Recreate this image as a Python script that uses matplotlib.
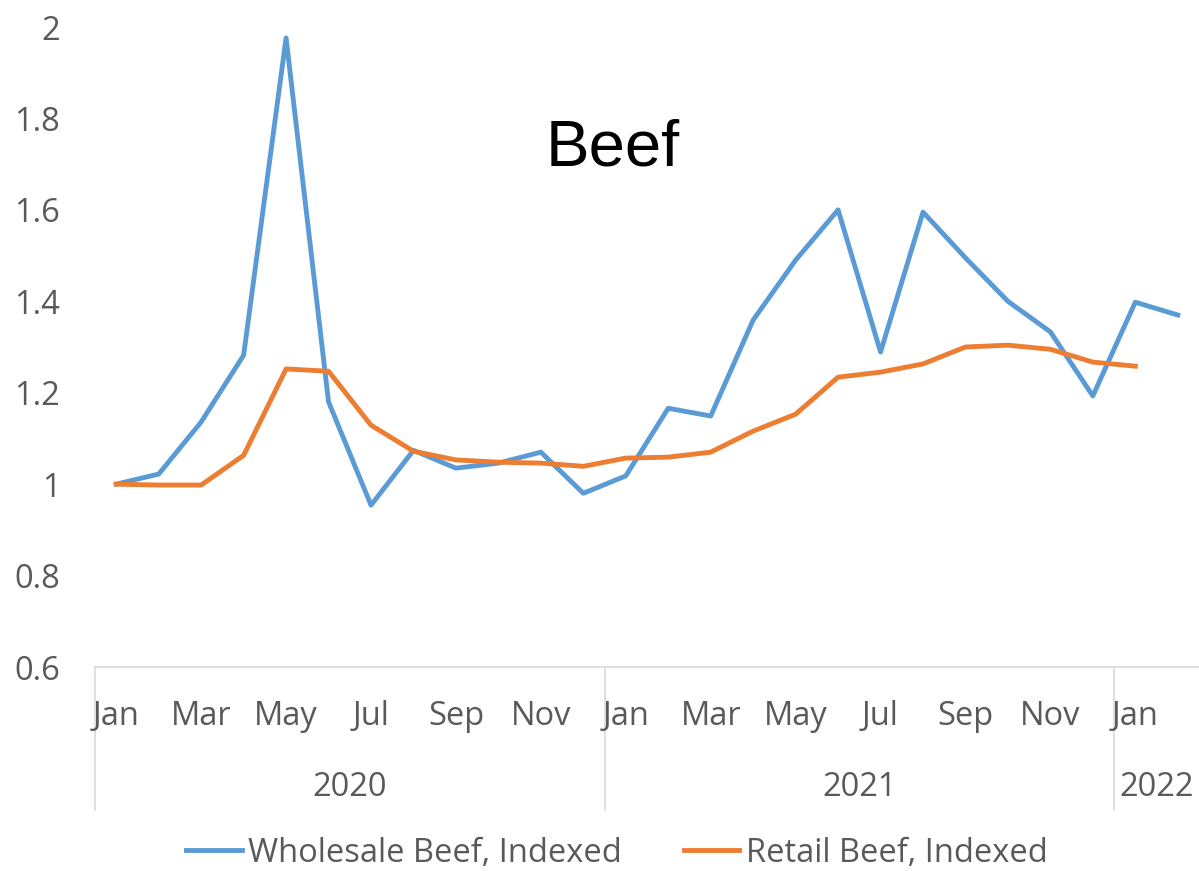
import matplotlib
matplotlib.use("Agg")
import matplotlib.pyplot as plt
from matplotlib.lines import Line2D

months = ["Jan", "Feb", "Mar", "Apr", "May", "Jun", "Jul", "Aug", "Sep", "Oct", "Nov", "Dec",
          "Jan", "Feb", "Mar", "Apr", "May", "Jun", "Jul", "Aug", "Sep", "Oct", "Nov", "Dec",
          "Jan", "Feb"]
years = ["2020", "2021", "2022"]
year_counts = [12, 12, 2]

wholesale = [1.0, 1.022, 1.136, 1.282, 1.976, 1.18, 0.954, 1.074, 1.035, 1.046, 1.07, 0.98,
             1.018, 1.166, 1.149, 1.359, 1.49, 1.6, 1.289, 1.595, 1.495, 1.4, 1.333, 1.193,
             1.398, 1.37]
retail = [1.0, 0.998, 0.998, 1.063, 1.252, 1.247, 1.129, 1.072, 1.053, 1.048, 1.046, 1.039,
          1.057, 1.059, 1.07, 1.116, 1.153, 1.234, 1.245, 1.263, 1.3, 1.304, 1.295, 1.267,
          1.258]
yticks = [0.6, 0.8, 1.0, 1.2, 1.4, 1.6, 1.8, 2.0]
ytick_labels = ["0.6", "0.8", "1", "1.2", "1.4", "1.6", "1.8", "2"]

W, H = 1199, 871
fig = plt.figure(figsize=(W / 100, H / 100), dpi=100)
ax = fig.add_axes([95 / W, (H - 667) / H, (1199 - 95) / W, (667 - 27) / H])

blue = "#5B9BD5"
orange = "#ED7D31"
grey = "#595959"
tfont = "Open Sans"
fs = 23.5

ax.plot(range(len(wholesale)), wholesale, color=blue, lw=3.5, solid_joinstyle="round")
ax.plot(range(len(retail)), retail, color=orange, lw=3.5, solid_joinstyle="round")

ax.set_xlim(-0.5, len(months) - 0.5)
ax.set_ylim(0.6, 2.0)
ax.set_yticks(yticks)
ax.set_yticklabels(ytick_labels, fontsize=fs, color=grey, family=tfont)
ax.tick_params(axis="y", length=0, pad=25)
ax.set_xticks([])
for s in ["top", "right", "left"]:
    ax.spines[s].set_visible(False)
ax.spines["bottom"].set_color("#D9D9D9")
ax.spines["bottom"].set_linewidth(1.2)

trans = ax.get_xaxis_transform()
for i, m in enumerate(months):
    if i % 2 == 0:
        ax.text(i, -49 / 640, m, transform=trans, ha="center", va="center",
                fontsize=fs, color=grey, family=tfont, clip_on=False)
start = 0
bounds = [start]
for c in year_counts:
    start += c
    bounds.append(start)
for b in bounds[:-1]:
    ax.add_line(Line2D([b - 0.5, b - 0.5], [0, -143 / 640], transform=trans,
                       color="#D9D9D9", lw=1.2, clip_on=False))
for k, y in enumerate(years):
    a, b = bounds[k], bounds[k + 1]
    ax.text((a + b - 1) / 2, -120 / 640, y, transform=trans, ha="center", va="center",
            fontsize=fs, color=grey, family=tfont, clip_on=False)

fig.text(613 / W, 1 - 148 / H, "Beef", ha="center", va="center", fontsize=47,
         family="Liberation Sans", color="black")

handles = [Line2D([], [], color=blue, lw=3.5), Line2D([], [], color=orange, lw=3.5)]
fig.legend(handles, ["Wholesale Beef, Indexed", "Retail Beef, Indexed"],
           loc="center", bbox_to_anchor=(617 / W, 1 - 853 / H), ncol=2, frameon=False,
           prop={"family": tfont, "size": fs}, labelcolor=grey, handlelength=1.7,
           columnspacing=1.9, handletextpad=0.2)

fig.savefig("out.png", dpi=100)
